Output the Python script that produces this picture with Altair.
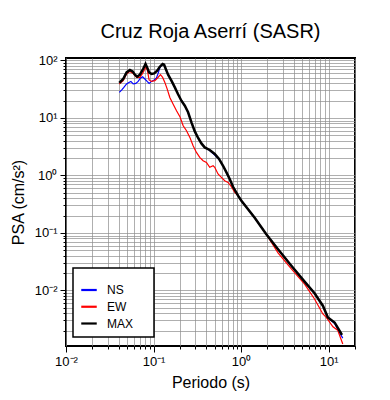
import altair as alt
import pandas as pd

title_text = "Cruz Roja Aserrí (SASR)"
series_names = ["NS", "EW", "MAX"]
series_colors = ["#0000ff", "#ff0000", "#000000"]

# MAX (black)
max_period = [0.0406, 0.045, 0.0492, 0.0537, 0.0577, 0.0612, 0.065, 0.0698, 0.076, 0.081,
              0.0845, 0.089, 0.0948, 0.1016, 0.110, 0.118, 0.127, 0.132, 0.138, 0.1466,
              0.160, 0.175, 0.19, 0.208, 0.2275, 0.248, 0.271, 0.296, 0.323, 0.352,
              0.384, 0.438, 0.5, 0.56, 0.622, 0.68, 0.741, 0.809, 0.923, 1.008,
              1.43, 1.94, 2.64, 3.75, 5.31, 6.9, 8.59, 9.8, 11.7, 13.3, 14.2]
max_psa = [40.5, 47.5, 61.8, 68.0, 64.4, 56.4, 52.0, 56.4, 70.8, 86.5,
           75.5, 61.8, 58.0, 59.4, 66.2, 77.6, 86.5, 84.2, 70.8, 56.4,
           44.4, 33.9, 26.0, 19.9, 16.3, 12.5, 8.36, 5.82, 4.47, 3.6,
           3.07, 2.77, 2.36, 1.93, 1.47, 1.13, 0.865, 0.635, 0.444, 0.363,
           0.183, 0.0948, 0.0521, 0.0269, 0.0142, 0.00894, 0.00542, 0.00339, 0.00277, 0.00199, 0.00168]

# NS (blue)
ns_period = [0.0406, 0.0431, 0.0458, 0.0492, 0.0523, 0.0551, 0.0585, 0.0628, 0.0667, 0.0711,
             0.075, 0.0796, 0.0845, 0.089, 0.0948, 0.1016, 0.108, 0.113, 0.118, 0.127,
             0.132, 0.138, 0.1466, 0.160, 0.175, 0.19, 0.208, 0.2275, 0.248, 0.271,
             0.296, 0.323, 0.352, 0.384, 0.438, 0.5, 0.56, 0.622, 0.68, 0.741,
             0.809, 0.923, 1.008, 1.43, 1.94, 2.64, 3.75, 5.31, 6.9, 8.59,
             9.8, 11.7, 13.3, 14.5]
ns_psa = [27.7, 30.5, 33.9, 38.9, 41.4, 43.1, 38.9, 39.8, 43.1, 49.4,
          52.0, 47.5, 43.1, 39.8, 43.1, 45.6, 49.4, 60.0, 75.0, 86.5,
          84.2, 70.8, 56.4, 44.4, 33.9, 26.0, 19.9, 16.3, 12.5, 8.36,
          5.82, 4.47, 3.6, 3.07, 2.7, 2.25, 1.9, 1.47, 1.13, 0.865,
          0.635, 0.444, 0.363, 0.183, 0.0948, 0.0521, 0.0269, 0.0142, 0.00894, 0.00542,
          0.00339, 0.00265, 0.00185, 0.00148]

# EW (red)
ew_period = [0.0406, 0.045, 0.0492, 0.0537, 0.0585, 0.064, 0.0698, 0.075, 0.0796, 0.0824,
             0.0855, 0.089, 0.0948, 0.1035, 0.111, 0.120, 0.127, 0.1346, 0.143, 0.1535,
             0.167, 0.183, 0.2, 0.218, 0.238, 0.26, 0.283, 0.309, 0.337, 0.368,
             0.402, 0.438, 0.479, 0.5, 0.545, 0.596, 0.65, 0.71, 0.775, 0.846,
             0.923, 1.008, 1.43, 1.94, 2.64, 3.75, 5.31, 6.9, 8.59, 9.4,
             11.2, 12.7, 14.5]
ew_psa = [38.9, 44.4, 58.0, 64.4, 59.4, 50.6, 50.6, 59.4, 70.8, 77.6,
          64.4, 45.6, 43.1, 44.4, 49.4, 56.4, 50.6, 41.4, 31.9, 22.7,
          17.5, 13.3, 10.5, 7.31, 5.98, 4.58, 3.29, 2.51, 2.06, 1.80,
          1.68, 1.38, 1.47, 1.38, 1.06, 0.922, 0.809, 0.755, 0.635, 0.506,
          0.444, 0.363, 0.183, 0.0948, 0.045, 0.0236, 0.0129, 0.00708, 0.00389, 0.00339,
          0.00233, 0.00203, 0.00117]

x_domain = [0.01, 20]
y_domain = [0.00108, 110]
x_ticks = [m * 10.0 ** e for e in range(-2, 1) for m in range(1, 10)] + [1, 2, 3, 4, 5, 6, 7, 8, 9, 10, 20]
y_ticks = [m * 10.0 ** e for e in range(-3, 2) for m in range(1, 10) if m * 10.0 ** e >= 0.0015] + [100]

FONT = "Liberation Sans"

df_ns = pd.DataFrame({"T": ns_period, "PSA": ns_psa, "series": "NS"})
df_ew = pd.DataFrame({"T": ew_period, "PSA": ew_psa, "series": "EW"})
df_max = pd.DataFrame({"T": max_period, "PSA": max_psa, "series": "MAX"})

lg = "log(datum.value)/LN10"
is_dec = f"abs({lg} - round({lg})) < 0.01"
sup = {-3: "⁻³", -2: "⁻²", -1: "⁻¹", 0: "⁰", 1: "¹", 2: "²"}
lab = "''"
for e, s in sup.items():
    lab = f"round({lg}) == {e} ? '10{s}' : ({lab})"
label_expr = f"{is_dec} ? ({lab}) : ''"
tick_size = {"condition": {"test": is_dec, "value": 6}, "value": 3}

x_enc = alt.X("T:Q", scale=alt.Scale(type="log", domain=x_domain, nice=False),
              axis=alt.Axis(values=x_ticks, labelExpr=label_expr, tickSize=tick_size,
                            title="Periodo (s)", labelFlush=False, labelOverlap=False,
                            titlePadding=6, labelPadding=3))
y_enc = alt.Y("PSA:Q", scale=alt.Scale(type="log", domain=y_domain, nice=False),
              axis=alt.Axis(values=y_ticks, labelExpr=label_expr, tickSize=tick_size,
                            title="PSA (cm/s²)", labelFlush=False, labelOverlap=False,
                            titlePadding=8, labelPadding=3))
# invisible spacer title only widens the legend box to the reference's size
color_enc = alt.Color("series:N",
                      scale=alt.Scale(domain=series_names, range=series_colors),
                      legend=alt.Legend(orient="none", legendX=7, legendY=210,
                                        title="XXXXXXXXXXXXXXXXXXXX", titleFontSize=5,
                                        titleOpacity=0, titlePadding=1, titleFont=FONT,
                                        fillColor="white", strokeColor="black",
                                        padding=7, symbolType="stroke", symbolSize=240,
                                        symbolStrokeWidth=2.2, labelFontSize=12, labelFont=FONT,
                                        labelOffset=9, rowPadding=1.75))

ns = alt.Chart(df_ns).mark_line(strokeWidth=1.2).encode(x=x_enc, y=y_enc, color=color_enc)
ew = alt.Chart(df_ew).mark_line(strokeWidth=1.2).encode(x=x_enc, y=y_enc, color=color_enc)
mx = alt.Chart(df_max).mark_line(strokeWidth=2.5).encode(x=x_enc, y=y_enc, color=color_enc)

chart = alt.layer(ns, ew, mx).properties(
    width=289, height=288,
    title=alt.TitleParams(title_text, fontSize=20, font=FONT, fontWeight="normal", offset=12),
    padding={"left": 2, "top": 14, "right": 5, "bottom": 5},
).configure_view(stroke="black", strokeWidth=2).configure_axis(
    grid=True, gridColor="#8c8c8c", gridWidth=0.7, domain=False,
    tickColor="black", tickWidth=1, labelFont=FONT, labelFontSize=13, labelColor="black",
    titleFont=FONT, titleFontSize=16, titleFontWeight="normal", titleColor="black",
).configure_legend(strokeWidth=1.5)

chart.save("out.html", embed_options={"renderer": "svg", "actions": False})
